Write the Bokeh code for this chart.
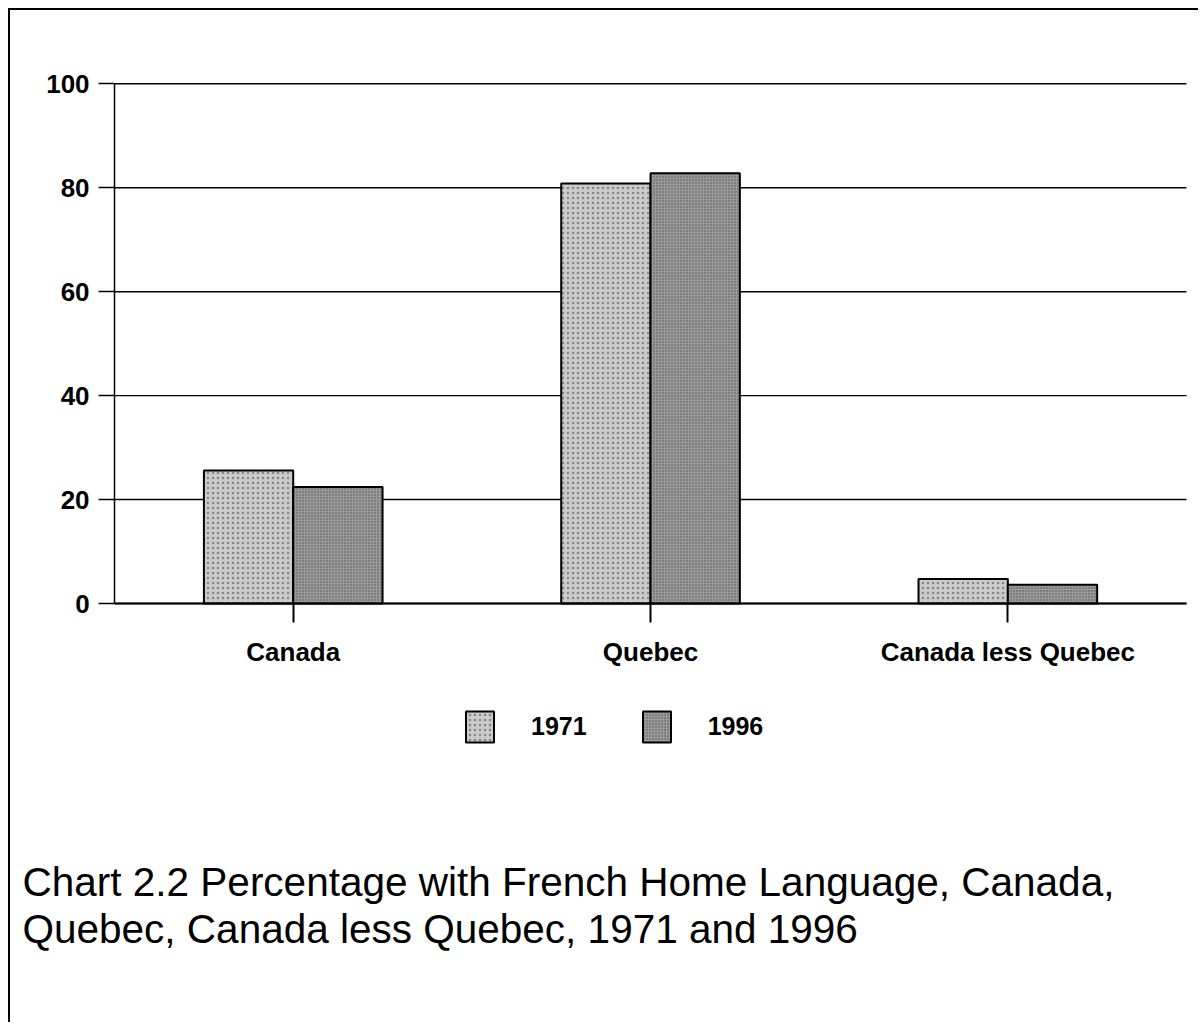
from bokeh.plotting import figure
from bokeh.models import (ColumnDataSource, Range1d, FixedTicker,
                          Legend, LegendItem, Label)
from bokeh.embed import file_html
from bokeh.resources import INLINE

categories = ["Canada", "Quebec", "Canada less Quebec"]
series_names = ["1971", "1996"]
values_1971 = [25.6, 80.8, 4.7]
values_1996 = [22.4, 82.8, 3.6]
y_ticks = [0, 20, 40, 60, 80, 100]
caption_lines = ["Chart 2.2 Percentage with French Home Language, Canada,",
                 "Quebec, Canada less Quebec, 1971 and 1996"]

# category slots on a numeric axis (one unit per category)
cat_pos = [i + 0.5 for i in range(len(categories))]
bar_w = 0.25
src1 = ColumnDataSource(dict(x=[c - bar_w / 2 for c in cat_pos], top=values_1971))
src2 = ColumnDataSource(dict(x=[c + bar_w / 2 for c in cat_pos], top=values_1996))

# canvas geometry (pixels)
W, H = 1190, 1014
px_per_cat = 357.0
px_per_unit = 5.197
ax_left, ax_right_pad = 104, 14
zero_from_top, = [593]

x_range = Range1d(-ax_left / px_per_cat, len(categories) + ax_right_pad / px_per_cat)
y_range = Range1d(-(H - zero_from_top) / px_per_unit, zero_from_top / px_per_unit)

p = figure(width=W, height=H, x_range=x_range, y_range=y_range,
           output_backend="svg", toolbar_location=None, tools="", min_border=0)
p.styles = {"border-left": "2px solid #000", "border-top": "2px solid #000",
            "margin-left": "8px", "margin-top": "8px"}
p.outline_line_color = None
p.background_fill_color = "white"
p.border_fill_color = "white"
p.xgrid.grid_line_color = None
p.ygrid.grid_line_color = None

# horizontal grid lines across the plotting area, one per y tick
p.segment(x0=0, x1=len(categories), y0=y_ticks, y1=y_ticks,
          line_color="black", line_width=1.4)

r1 = p.vbar(x="x", top="top", width=bar_w, source=src1,
            fill_color="#cbcbcb", line_color="black", line_width=2,
            hatch_pattern="dot", hatch_color="#555555", hatch_scale=5, hatch_weight=1.2,
            hatch_alpha=0.6)
r2 = p.vbar(x="x", top="top", width=bar_w, source=src2,
            fill_color="#9a9a9a", line_color="black", line_width=2,
            hatch_pattern="dot", hatch_color="#333333", hatch_scale=3, hatch_weight=1,
            hatch_alpha=0.7)

font = "Liberation Sans"

ya = p.yaxis[0]
ya.fixed_location = 0
ya.bounds = (0, 100)
ya.ticker = FixedTicker(ticks=y_ticks)
ya.major_tick_out = 16
ya.major_tick_in = 0
ya.minor_tick_line_color = None
ya.axis_line_width = 1.5
ya.major_tick_line_width = 1.5
ya.major_label_standoff = 9
ya.major_label_text_font = font
ya.major_label_text_font_style = "bold"
ya.major_label_text_font_size = "26px"
ya.major_label_text_color = "black"

xa = p.xaxis[0]
xa.fixed_location = 0
xa.bounds = (0, len(categories))
xa.ticker = FixedTicker(ticks=cat_pos)
xa.major_label_overrides = {c: name for c, name in zip(cat_pos, categories)}
xa.major_tick_out = 19
xa.major_tick_in = 0
xa.minor_tick_line_color = None
xa.axis_line_width = 2
xa.major_tick_line_width = 2
xa.major_label_standoff = 14
xa.major_label_text_font = font
xa.major_label_text_font_style = "bold"
xa.major_label_text_font_size = "26px"
xa.major_label_text_color = "black"

legend = Legend(items=[LegendItem(label=series_names[0], renderers=[r1]),
                       LegendItem(label=series_names[1], renderers=[r2])],
                orientation="horizontal", location=(452, 278),
                glyph_width=35, glyph_height=39, label_standoff=34, spacing=52,
                padding=0, margin=0, border_line_color=None, background_fill_alpha=0,
                label_text_font=font, label_text_font_style="bold",
                label_text_font_size="25px", label_text_color="black", label_height=39)
p.add_layout(legend)

for i, line in enumerate(caption_lines):
    p.add_layout(Label(x=12, y=143 - 47 * i, x_units="screen", y_units="screen",
                       text=line, text_font="Liberation Sans", text_font_size="40.5px",
                       text_color="black", text_baseline="alphabetic"))

open("out.html", "w").write(file_html(p, INLINE))
